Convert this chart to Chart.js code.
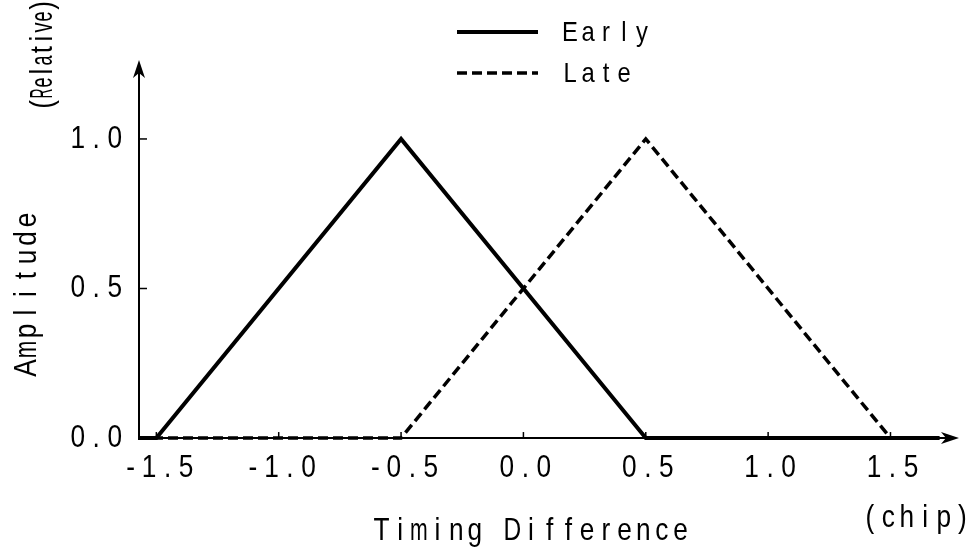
<!DOCTYPE html>
<html>
<head>
<meta charset="utf-8">
<script src="https://cdn.jsdelivr.net/npm/chart.js@4"></script>
<style>
  html, body { margin: 0; padding: 0; background: #fff; }
  #wrap { width: 969px; height: 550px; }
</style>
</head>
<body>
<div id="wrap"><canvas id="grafico"></canvas></div>
<script>
// data
var earlyX = [-1.575, -1.5, -0.5, 0.5, 1.7];
var earlyY = [0, 0, 1, 0, 0];
var lateX = [-1.575, -0.5, 0.5, 1.5, 1.7];
var lateY = [0, 0, 1, 0, 0];
var xTicks = [-1.5, -1.0, -0.5, 0.0, 0.5, 1.0, 1.5];
var yTicks = [0.0, 0.5, 1.0];
var seriesNames = ['Early', 'Late'];

var FONT = '"Liberation Sans", Arial, sans-serif';

function pontos(xs, ys) {
    return xs.map(function(x, i) { return { x: x, y: ys[i] }; });
}

// typewriter-like text: every glyph centred in a fixed cell, a bit condensed
function texto(ctx, txt, x, y, cell, align, cond) {
    cond = cond || 0.82;
    var total = cell * txt.length;
    var left = x;
    if (align === 'center') left = x - total / 2;
    else if (align === 'right') left = x - total;
    ctx.textAlign = 'center';
    for (var i = 0; i < txt.length; i++) {
        var ch = txt[i];
        var w = ctx.measureText(ch).width * cond;
        var sx = w > cell - 1 ? cond * (cell - 1) / w : cond;
        ctx.save();
        ctx.translate(left + cell * i + cell / 2, y);
        ctx.scale(sx, 1);
        ctx.fillText(ch, 0, 0);
        ctx.restore();
    }
}

var eixos = {
    id: 'eixos',
    beforeDatasetsDraw: function(chart) {
        var ctx = chart.ctx;
        var xs = chart.scales.x, ys = chart.scales.y;
        var y0 = ys.getPixelForValue(0);
        var xL = xs.getPixelForValue(xs.min);
        var xR = xs.getPixelForValue(xs.max);
        var yT = ys.getPixelForValue(ys.max);
        ctx.save();
        ctx.strokeStyle = '#000';
        ctx.fillStyle = '#000';
        ctx.lineWidth = 2;
        // x axis
        ctx.beginPath();
        ctx.moveTo(xL, y0);
        ctx.lineTo(xR - 10, y0);
        ctx.stroke();
        ctx.beginPath();
        ctx.moveTo(xR, y0);
        ctx.lineTo(xR - 18, y0 - 6);
        ctx.lineTo(xR - 13, y0);
        ctx.lineTo(xR - 18, y0 + 6);
        ctx.closePath();
        ctx.fill();
        // y axis
        var xa = xL + 1;
        ctx.beginPath();
        ctx.moveTo(xa, y0);
        ctx.lineTo(xa, yT + 10);
        ctx.stroke();
        ctx.beginPath();
        ctx.moveTo(xa, yT);
        ctx.lineTo(xa - 6, yT + 18);
        ctx.lineTo(xa, yT + 13);
        ctx.lineTo(xa + 6, yT + 18);
        ctx.closePath();
        ctx.fill();
        // ticks
        ctx.lineWidth = 1.5;
        xTicks.forEach(function(v) {
            var px = xs.getPixelForValue(v);
            ctx.beginPath();
            ctx.moveTo(px, y0);
            ctx.lineTo(px, y0 - 6);
            ctx.stroke();
        });
        yTicks.forEach(function(v) {
            if (v === 0) return;
            var py = ys.getPixelForValue(v);
            ctx.beginPath();
            ctx.moveTo(xa, py);
            ctx.lineTo(xa + 8, py);
            ctx.stroke();
        });
        // tick labels
        ctx.font = '32px ' + FONT;
        ctx.textBaseline = 'middle';
        xTicks.forEach(function(v) {
            texto(ctx, v.toFixed(1), xs.getPixelForValue(v) + 2, y0 + 30, 18.5, 'center');
        });
        yTicks.forEach(function(v) {
            texto(ctx, v.toFixed(1), 124, ys.getPixelForValue(v), 18.5, 'right');
        });
        // axis titles
        texto(ctx, 'Timing Difference', 531, 531, 18.7, 'center');
        texto(ctx, '(chip)', 916, 518, 18.5, 'center');
        ctx.save();
        ctx.translate(27, 294);
        ctx.rotate(-Math.PI / 2);
        texto(ctx, 'Amplitude', 0, 0, 18.5, 'center');
        ctx.restore();
        ctx.save();
        ctx.translate(43, 55);
        ctx.rotate(-Math.PI / 2);
        texto(ctx, '(Relative)', 0, 0, 11, 'center');
        ctx.restore();
        ctx.restore();
    },
    afterDatasetsDraw: function(chart) {
        // legend
        var ctx = chart.ctx;
        ctx.save();
        ctx.strokeStyle = '#000';
        ctx.fillStyle = '#000';
        ctx.font = '28px ' + FONT;
        ctx.textBaseline = 'middle';
        chart.data.datasets.forEach(function(ds, i) {
            var ly = 32 + i * 41;
            ctx.lineWidth = ds.borderWidth;
            ctx.setLineDash(ds.borderDash || []);
            ctx.beginPath();
            ctx.moveTo(457, ly);
            ctx.lineTo(538, ly);
            ctx.stroke();
            texto(ctx, ds.label, 561, ly + 1, 18, 'left', 0.85);
        });
        ctx.restore();
    }
};

var ctxGraf = document.getElementById('grafico').getContext('2d');
var grafico = new Chart(ctxGraf, {
    type: 'line',
    data: {
        datasets: [{
            label: seriesNames[0],
            data: pontos(earlyX, earlyY),
            borderColor: '#000',
            borderWidth: 4,
            pointRadius: 0,
            tension: 0,
            clip: false
        }, {
            label: seriesNames[1],
            data: pontos(lateX, lateY),
            borderColor: '#000',
            borderWidth: 3.5,
            borderDash: [10, 5],
            pointRadius: 0,
            tension: 0,
            clip: false
        }]
    },
    options: {
        responsive: true,
        maintainAspectRatio: false,
        animation: false,
        layout: { padding: { left: 138, right: 10, top: 60, bottom: 97 } },
        plugins: { legend: { display: false }, tooltip: { enabled: false } },
        scales: {
            x: { type: 'linear', display: false, min: -1.575, max: 1.78 },
            y: { type: 'linear', display: false, min: -0.05, max: 1.264 }
        }
    },
    plugins: [eixos]
});
</script>
</body>
</html>
